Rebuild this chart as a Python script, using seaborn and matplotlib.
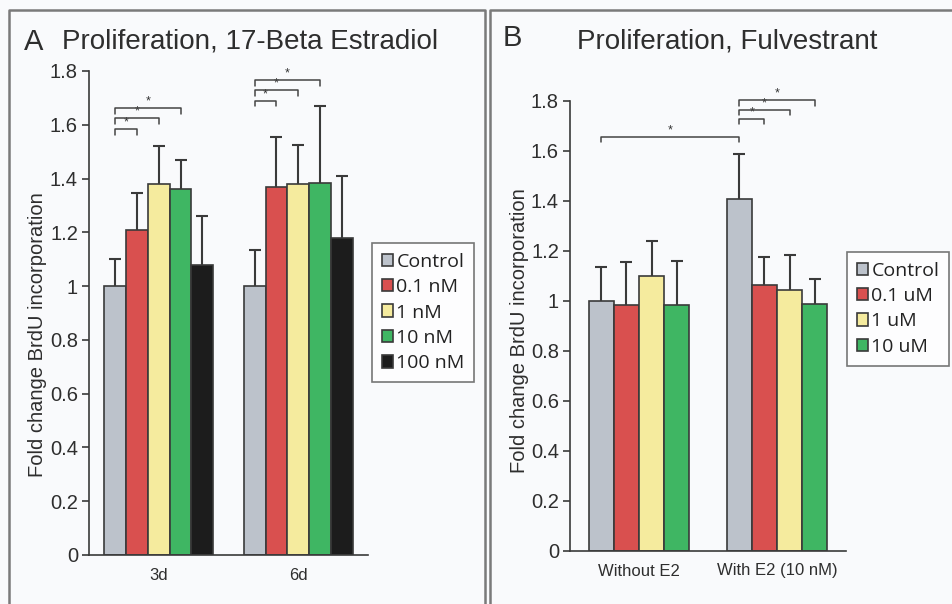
import numpy as np
import pandas as pd
import matplotlib
matplotlib.use("Agg")
import matplotlib.pyplot as plt
from matplotlib.lines import Line2D
import seaborn as sns

# ---------------- data ----------------
a_groups = ["3d", "6d"]
a_treat = ["Control", "0.1 nM", "1 nM", "10 nM", "100 nM"]
a_mean_3d = [1.00, 1.21, 1.38, 1.36, 1.08]
a_err_3d = [0.10, 0.135, 0.14, 0.11, 0.18]
a_mean_6d = [1.00, 1.37, 1.38, 1.385, 1.18]
a_err_6d = [0.135, 0.185, 0.145, 0.285, 0.23]

b_groups = ["Without E2", "With E2 (10 nM)"]
b_treat = ["Control", "0.1 uM", "1 uM", "10 uM"]
b_mean_wo = [1.00, 0.985, 1.10, 0.985]
b_err_wo = [0.135, 0.17, 0.14, 0.175]
b_mean_w = [1.41, 1.065, 1.045, 0.99]
b_err_w = [0.18, 0.11, 0.14, 0.10]

yticks = [0, 0.2, 0.4, 0.6, 0.8, 1, 1.2, 1.4, 1.6, 1.8]
ytick_labels = ["0", "0.2", "0.4", "0.6", "0.8", "1", "1.2", "1.4", "1.6", "1.8"]

colors5 = ["#bcc2cb", "#d9504f", "#f5eb9e", "#3fb663", "#1c1c1c"]

# significance brackets: (group idx, bar idx from, group idx, bar idx to, y)
a_brackets = [(0, 0, 0, 1, 1.585), (0, 0, 0, 2, 1.625), (0, 0, 0, 3, 1.663),
              (1, 0, 1, 1, 1.690), (1, 0, 1, 2, 1.728), (1, 0, 1, 3, 1.768)]
b_brackets = [(0, 0, 1, 0, 1.657), (1, 0, 1, 1, 1.729), (1, 0, 1, 2, 1.765),
              (1, 0, 1, 3, 1.804)]

BG = "#f9fafc"
TXT = "#2e2e2e"
EDGE = "#3a3a3a"
FONT = ["Liberation Sans", "DejaVu Sans"]

sns.set_theme(style="white")
plt.rcParams["font.family"] = FONT
plt.rcParams["axes.facecolor"] = BG
plt.rcParams["figure.facecolor"] = BG

fig = plt.figure(figsize=(9.53, 6.04), dpi=100)
fig.patch.set_facecolor(BG)

# panel frames
FR = "#7a7a7a"
fig.add_artist(Line2D([9/953, 9/953, 485/953, 485/953], [-0.01, 1-10/604, 1-10/604, -0.01],
                      transform=fig.transFigure, color=FR, lw=1.8))
fig.add_artist(Line2D([490/953, 490/953, 1.01], [-0.01, 1-10/604, 1-10/604],
                      transform=fig.transFigure, color=FR, lw=1.8))


def make_df(groups, treat, means_list, errs_list):
    rows = []
    for g, means, errs in zip(groups, means_list, errs_list):
        for t, m, e in zip(treat, means, errs):
            rows.append({"group": g, "treat": t, "value": m, "err": e})
    return pd.DataFrame(rows)


def draw_panel(ax, df, groups, treat, palette, width, brackets):
    sns.barplot(data=df, x="group", y="value", hue="treat", order=groups,
                hue_order=treat, palette=palette, width=width, gap=0,
                edgecolor=EDGE, linewidth=1.2, errorbar=None, ax=ax,
                legend=True, saturation=1)
    centers = {}
    for ti, (t, cont) in enumerate(zip(treat, ax.containers)):
        for gi, (g, p) in enumerate(zip(groups, cont.patches)):
            x = p.get_x() + p.get_width() / 2
            h = p.get_height()
            centers[(gi, ti)] = x
            e = df[(df.group == g) & (df.treat == t)]["err"].values[0]
            _, caps, _ = ax.errorbar([x], [h], yerr=[[0], [e]], fmt="none",
                                     ecolor=EDGE, elinewidth=1.5, capsize=4.5,
                                     capthick=1.5, zorder=1)
            caps[0].set_visible(False)
    for (g1, b1, g2, b2, y) in brackets:
        x1 = centers[(g1, b1)]
        x2 = centers[(g2, b2)]
        ax.plot([x1, x1, x2, x2], [y - 0.022, y, y, y - 0.022], color="#444444",
                lw=1.1, clip_on=False, zorder=5)
        ax.text((x1 + x2) / 2, y + 0.002, "*", ha="center", va="bottom",
                fontsize=9, color="#333333", clip_on=False)
    ax.set_xlim(-0.5, 1.5)
    ax.set_ylim(0, 1.8)
    ax.set_yticks(yticks)
    ax.set_yticklabels(ytick_labels, family=FONT, fontsize=14.5)
    ax.set_xticks([0, 1])
    ax.set_xticklabels(groups, family=FONT, fontsize=12)
    ax.set_xticks([0.5, 1.5], minor=True)
    ax.tick_params(axis="x", which="major", length=0, colors=TXT, pad=9)
    ax.tick_params(axis="x", which="minor", length=6, width=1.2, color=EDGE, direction="out")
    ax.tick_params(axis="y", length=5, width=1.2, color=EDGE, direction="out",
                   labelcolor=TXT, pad=3, left=True)
    ax.set_xlabel("")
    ax.set_ylabel("Fold change BrdU incorporation", fontsize=14.5, color=TXT,
                  family=FONT)
    for s in ["top", "right"]:
        ax.spines[s].set_visible(False)
    for s in ["left", "bottom"]:
        ax.spines[s].set_color(EDGE)
        ax.spines[s].set_linewidth(1.2)
    handles, labels = ax.get_legend_handles_labels()
    ax.get_legend().remove()
    return handles, labels


# Panel A
axA = fig.add_axes([89/953, 1-555/604, (368-89)/953, (555-71)/604])
dfA = make_df(a_groups, a_treat, [a_mean_3d, a_mean_6d], [a_err_3d, a_err_6d])
hA, lA = draw_panel(axA, dfA, a_groups, a_treat, colors5, 0.78, a_brackets)
axA.yaxis.set_label_coords(-0.152, 0.455)

# Panel B
axB = fig.add_axes([570/953, 1-551/604, (846-570)/953, (551-101)/604])
dfB = make_df(b_groups, b_treat, [b_mean_wo, b_mean_w], [b_err_wo, b_err_w])
hB, lB = draw_panel(axB, dfB, b_groups, b_treat, colors5[:4], 0.73, b_brackets)
axB.yaxis.set_label_coords(-0.150, 0.49)

leg_kw = dict(frameon=True, fancybox=False, handlelength=0.6, handleheight=0.6,
              handletextpad=0.15, labelspacing=0.38, borderpad=0.5,
              prop={"family": "Open Sans", "size": 14}, labelcolor="#222222",
              borderaxespad=0)
legA = fig.legend(hA, lA, loc="upper left", bbox_to_anchor=(372/953, 1-243/604), **leg_kw)
legB = fig.legend(hB, lB, loc="upper left", bbox_to_anchor=(847/953, 1-252/604), **leg_kw)
for lg in (legA, legB):
    fr = lg.get_frame()
    fr.set_edgecolor("#555555")
    fr.set_linewidth(1.2)
    fr.set_facecolor("#ffffff")

# titles
fig.text(24/953, 1-42/604, "A", fontsize=21, color=TXT, va="center", ha="left")
fig.text(62/953, 1-42/604, "Proliferation, 17-Beta Estradiol", fontsize=20, color=TXT,
         va="center", ha="left")
fig.text(503/953, 1-38/604, "B", fontsize=21, color=TXT, va="center", ha="left")
fig.text(727/953, 1-42/604, "Proliferation, Fulvestrant", fontsize=20, color=TXT,
         va="center", ha="center")

fig.savefig("out.png", dpi=100, facecolor=BG)
